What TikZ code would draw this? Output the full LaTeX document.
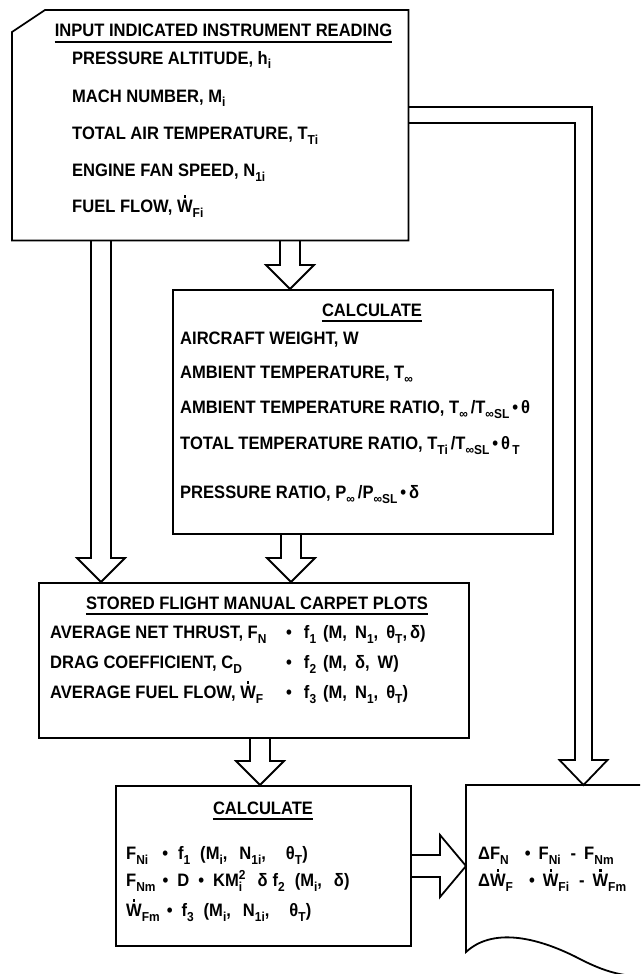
\documentclass[tikz,border=0pt]{standalone}
\usepackage{fontspec}
\setmainfont{Liberation Sans}[FakeStretch=0.92]
\usetikzlibrary{calc}

\newcommand\lett{\bfseries\fontsize{18}{19}\selectfont}
\newcommand\sub[1]{\raisebox{-5pt}{\fontsize{13}{13}\selectfont #1}}
\newcommand\super[1]{\raisebox{7pt}{\fontsize{13}{13}\selectfont #1}}
\newcommand\wdot{\ooalign{W\cr\hidewidth\raisebox{14.5pt}{\rule{2.3pt}{2.3pt}}\hidewidth\cr}}
\newcommand\eqd{\textbullet}

\tikzset{
  edge/.style={draw, line width=1.8pt, line join=miter},
  blkdown/.style={edge, to path={($(\tikztostart)+(-10,0)$) -- ($(\tikztotarget)+(-10,-24)$)
      -- ($(\tikztotarget)+(-24,-24)$) -- (\tikztotarget) -- ($(\tikztotarget)+(24,-24)$)
      -- ($(\tikztotarget)+(10,-24)$) -- ($(\tikztostart)+(10,0)$)}},
  blkright/.style={edge, to path={($(\tikztostart)+(0,-11)$) -- ($(\tikztotarget)+(-26,-11)$)
      -- ($(\tikztotarget)+(-26,-31)$) -- (\tikztotarget) -- ($(\tikztotarget)+(-26,31)$)
      -- ($(\tikztotarget)+(-26,11)$) -- ($(\tikztostart)+(0,11)$)}},
  blkbend/.style={edge, to path={($(\tikztostart)+(0,-8)$) -| ($(\tikztotarget)+(8.5,-25)$)
      -- ($(\tikztotarget)+(24,-25)$) -- (\tikztotarget) -- ($(\tikztotarget)+(-24,-25)$)
      -- ($(\tikztotarget)+(-8.5,-25)$) |- ($(\tikztostart)+(0,8)$)}},
  uline/.style={line width=1.5pt}
}

\begin{document}
\begin{tikzpicture}[x=1pt,y=-1pt]
  \useasboundingbox (0,0) rectangle (640,974);
  \clip (0,0) rectangle (640,974);

  \begin{scope}[every node/.style={inner sep=0pt, anchor=north west}]
    \node[minimum width=396, minimum height=230] (in) at (12,10) {};
    \node[edge, minimum width=380, minimum height=244] (calc1) at (172,289) {};
    \node[edge, minimum width=430, minimum height=155] (plots) at (38,582) {};
    \node[edge, minimum width=295, minimum height=160] (calc2) at (115,785) {};
    \node[minimum width=184, minimum height=167] (delta) at (466,785) {};
  \end{scope}

  \draw[edge] ([yshift=-22pt]in.north west) -- ([xshift=33pt]in.north west) -- (in.north east)
    -- (in.south east) -- (in.south west) -- cycle;
  \draw[edge] ([xshift=20pt]delta.north east) -- (delta.north west) -- (466,952)
    .. controls (492,928) and (535,936) .. (578,958)
    .. controls (603,971) and (625,979) .. (660,976);

  \coordinate (a1) at (101,240);   \coordinate (b1) at (101,582);
  \coordinate (a2) at (290,240);   \coordinate (b2) at (290,289);
  \coordinate (a3) at (291,533);   \coordinate (b3) at (291,582);
  \coordinate (a4) at (260,737);   \coordinate (b4) at (260,785);
  \coordinate (a5) at (408,115);   \coordinate (b5) at (583.5,785);
  \coordinate (a6) at (410,866);   \coordinate (b6) at (466,866);

  \path[blkdown] (a1) to (b1);
  \path[blkdown] (a2) to (b2);
  \path[blkdown] (a3) to (b3);
  \path[blkdown] (a4) to (b4);
  \path[blkbend] (a5) to (b5);
  \path[blkright] (a6) to (b6);

  \begin{scope}[every node/.style={anchor=base, inner sep=0pt, font=\lett}]
    \node (in-0)    at (223.5,37) {INPUT INDICATED INSTRUMENT READING};
    \node (calc1-0) at (372,316)  {CALCULATE};
    \node (plots-0) at (257,609)  {STORED FLIGHT MANUAL CARPET PLOTS};
    \node (calc2-0) at (263,814)  {CALCULATE};
  \end{scope}
  \foreach \t in {in-0,calc1-0,plots-0,calc2-0}
    \draw[uline] ([yshift=-5pt]\t.base west) -- ([yshift=-5pt]\t.base east);

  \begin{scope}[every node/.style={anchor=base west, inner sep=0pt, font=\lett}]
    \node (in-1) at (72,64)  {PRESSURE ALTITUDE, h\sub{i}};
    \node (in-2) at (72,102) {MACH NUMBER, M\sub{i}};
    \node (in-3) at (72,139) {TOTAL AIR TEMPERATURE, T\sub{Ti}};
    \node (in-4) at (72,176) {ENGINE FAN SPEED, N\sub{1i}};
    \node (in-5) at (72,212) {FUEL FLOW, \wdot\sub{Fi}};

    \node (calc1-1) at (180,344) {AIRCRAFT WEIGHT, W};
    \node (calc1-2) at (180,378) {AMBIENT TEMPERATURE, T\sub{∞}};
    \node (calc1-3) at (180,413) {AMBIENT TEMPERATURE RATIO, T\sub{∞}\,/T\sub{∞SL}\,\eqd\,θ};
    \node (calc1-4) at (180,449) {TOTAL TEMPERATURE RATIO, T\sub{Ti}\,/T\sub{∞SL}\,\eqd\,θ\sub{\,T}};
    \node (calc1-5) at (180,498) {PRESSURE RATIO, P\sub{∞}\,/P\sub{∞SL}\,\eqd\,δ};

    \node (plots-1) at (50,638) {AVERAGE NET THRUST, F\sub{N}};
    \node (plots-2) at (50,668) {DRAG COEFFICIENT, C\sub{D}};
    \node (plots-3) at (50,698) {AVERAGE FUEL FLOW, \wdot\sub{F}};
    \node (plots-4) at (286,638) {\eqd\hspace{12pt}f\sub{1}\hspace{7pt}(M,\hspace{8pt}N\sub{1},\hspace{8pt}θ\sub{T},\hspace{3pt}δ)};
    \node (plots-5) at (286,668) {\eqd\hspace{12pt}f\sub{2}\hspace{7pt}(M,\hspace{8pt}δ,\hspace{8pt}W)};
    \node (plots-6) at (286,698) {\eqd\hspace{12pt}f\sub{3}\hspace{7pt}(M,\hspace{8pt}N\sub{1},\hspace{8pt}θ\sub{T})};

    \node (calc2-1) at (126,859) {F\sub{Ni}\hspace{14pt}\eqd\hspace{10pt}f\sub{1}\hspace{10pt}(M\sub{i},\hspace{12pt}N\sub{1i},\hspace{20pt}θ\sub{T})};
    \node (calc2-2) at (126,886) {F\sub{Nm}\hspace{7pt}\eqd\hspace{9pt}D\hspace{9pt}\eqd\hspace{9pt}KM\rlap{\sub{i}}\super{2}\hspace{12pt}δ\hspace{5pt}f\sub{2}\hspace{10pt}(M\sub{i},\hspace{12pt}δ)};
    \node (calc2-3) at (126,916) {\wdot\sub{Fm}\hspace{7pt}\eqd\hspace{9pt}f\sub{3}\hspace{10pt}(M\sub{i},\hspace{12pt}N\sub{1i},\hspace{20pt}θ\sub{T})};

    \node (delta-1) at (478,859) {ΔF\sub{N}\hspace{16pt}\eqd\hspace{8pt}F\sub{Ni}\hspace{10pt}-\hspace{8pt}F\sub{Nm}};
    \node (delta-2) at (478,886) {Δ\wdot\sub{F}\hspace{16pt}\eqd\hspace{8pt}\wdot\sub{Fi}\hspace{10pt}-\hspace{8pt}\wdot\sub{Fm}};
  \end{scope}
\end{tikzpicture}
\end{document}
